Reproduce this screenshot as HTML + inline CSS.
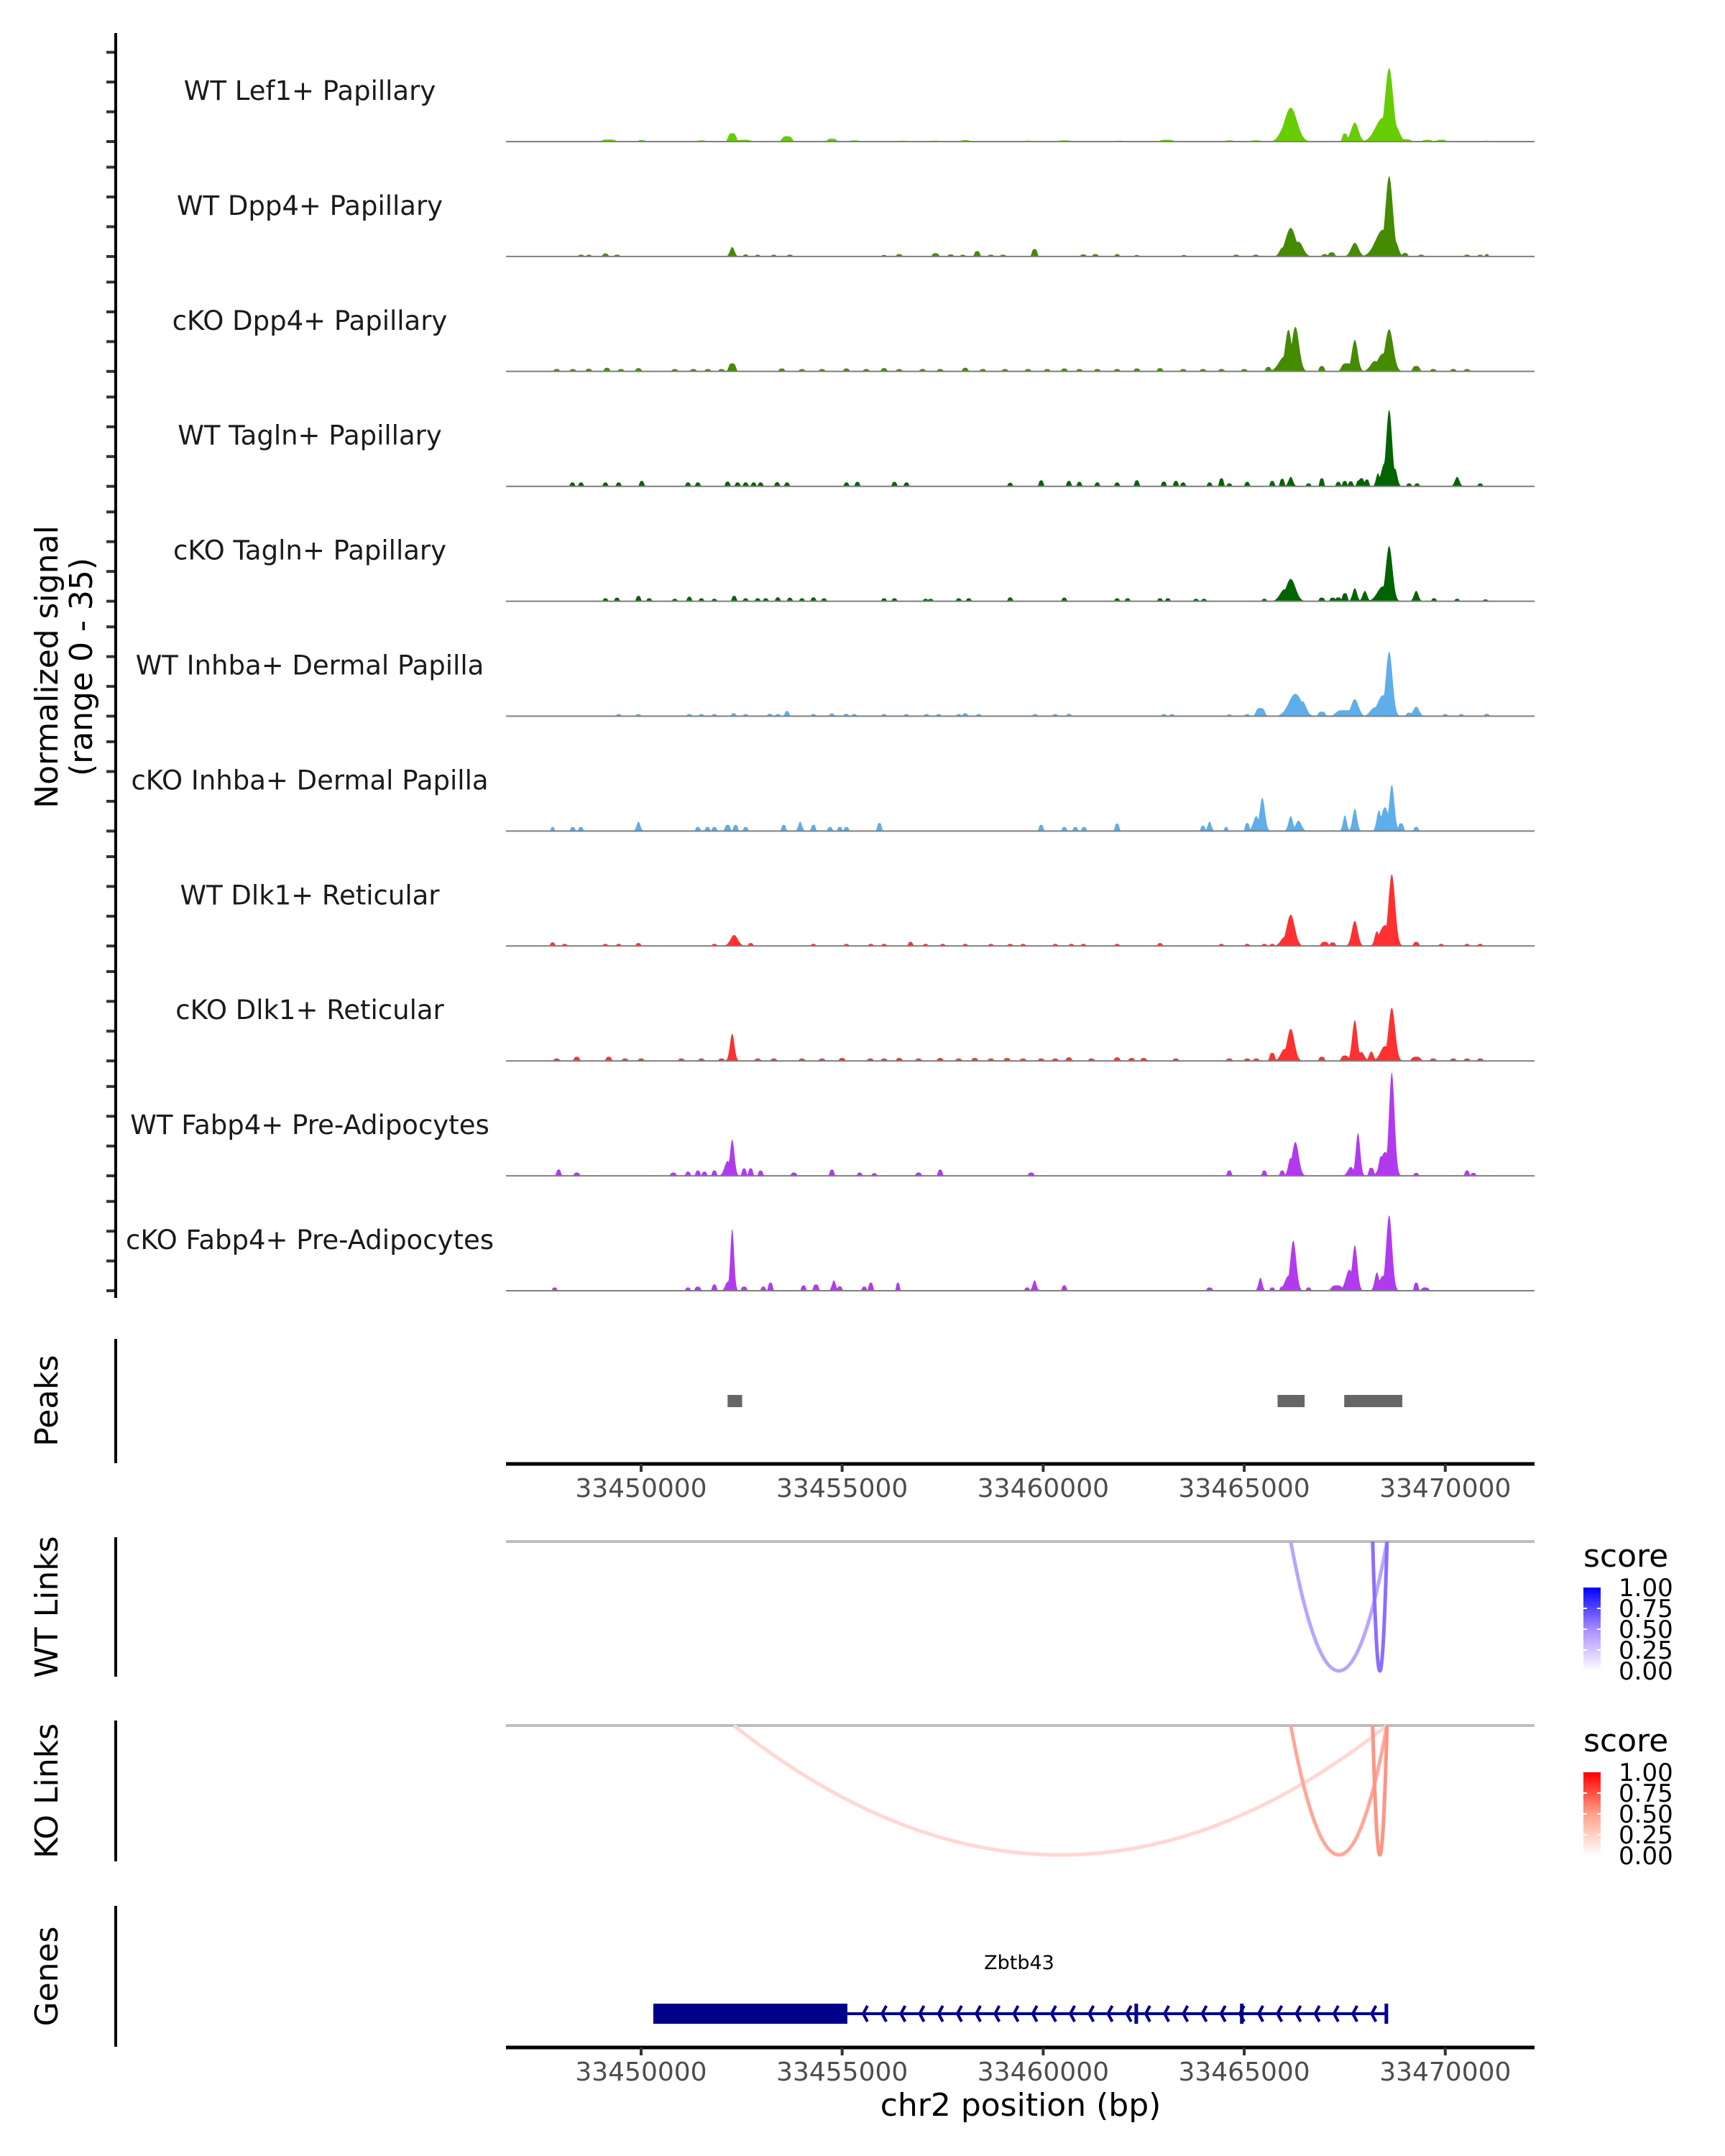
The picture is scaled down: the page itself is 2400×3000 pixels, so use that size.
<!DOCTYPE html>
<html><head><meta charset="utf-8">
<style>
html,body{margin:0;padding:0;background:#fff;}
svg{display:block;font-family:"DejaVu Sans","Liberation Sans",sans-serif;}
</style></head>
<body>
<svg id="fig" width="2400" height="3000" viewBox="0 0 2400 3000" xmlns="http://www.w3.org/2000/svg">
<rect x="0" y="0" width="2400" height="3000" fill="#fff"/>
<g id="cov"></g>
<g id="axes"></g>
<text x="0" y="0" transform="translate(80,928) rotate(-90)" text-anchor="middle" font-size="44" fill="#000">Normalized signal</text>
<text x="0" y="0" transform="translate(128,928) rotate(-90)" text-anchor="middle" font-size="44" fill="#000">(range 0 - 35)</text>
<text x="0" y="0" transform="translate(80,1949) rotate(-90)" text-anchor="middle" font-size="44" fill="#000">Peaks</text>
<text x="0" y="0" transform="translate(80,2236) rotate(-90)" text-anchor="middle" font-size="44" fill="#000">WT Links</text>
<text x="0" y="0" transform="translate(80,2492) rotate(-90)" text-anchor="middle" font-size="44" fill="#000">KO Links</text>
<text x="0" y="0" transform="translate(80,2750) rotate(-90)" text-anchor="middle" font-size="44" fill="#000">Genes</text>
<line x1="161" y1="46" x2="161" y2="1806" stroke="#000" stroke-width="4"/>
<line x1="161" y1="1863" x2="161" y2="2036" stroke="#000" stroke-width="4"/>
<line x1="161" y1="2139" x2="161" y2="2333" stroke="#000" stroke-width="4"/>
<line x1="161" y1="2394" x2="161" y2="2590" stroke="#000" stroke-width="4"/>
<line x1="161" y1="2652" x2="161" y2="2848" stroke="#000" stroke-width="4"/>
<g id="peaks"></g>
<g id="links"></g>
<g id="genes"></g>
<defs>
<linearGradient id="gBlue" x1="0" y1="1" x2="0" y2="0"><stop offset="0" stop-color="#ffffff"/><stop offset="0.5" stop-color="#a88cff"/><stop offset="1" stop-color="#0000ff"/></linearGradient>
<linearGradient id="gRed" x1="0" y1="1" x2="0" y2="0"><stop offset="0" stop-color="#ffffff"/><stop offset="0.5" stop-color="#ffa28a"/><stop offset="1" stop-color="#ff0000"/></linearGradient>
</defs>
<g id="legends"></g>
<text x="1418" y="2740" text-anchor="middle" font-size="27" fill="#000">Zbtb43</text>
<text x="1420" y="2944" text-anchor="middle" font-size="44" fill="#000">chr2 position (bp)</text>
</svg>
<script>
const NS="http://www.w3.org/2000/svg";
const trackNames=["WT Lef1+ Papillary","WT Dpp4+ Papillary","cKO Dpp4+ Papillary","WT Tagln+ Papillary","cKO Tagln+ Papillary","WT Inhba+ Dermal Papilla","cKO Inhba+ Dermal Papilla","WT Dlk1+ Reticular","cKO Dlk1+ Reticular","WT Fabp4+ Pre-Adipocytes","cKO Fabp4+ Pre-Adipocytes"];
const trackColors=["#66cd00","#458b00","#458b00","#006400","#006400","#5eaeea","#5eaeea","#ff3030","#ff3030","#b23aee","#b23aee"];
const xTicks=[33450000,33455000,33460000,33465000,33470000];
const peakRegions=[[33452151,33452513],[33465829,33466502],[33467487,33468932]];
const wtLinks=[[33466157,33468552,0.4],[33468195,33468552,0.65]];
const koLinks=[[33452306,33468552,0.2],[33466157,33468552,0.45],[33468195,33468552,0.55]];
const geneUTR=[33450304,33455130];
const geneSpan=[33450304,33468535];
const geneExonMarks=[33462315,33464940,33468535];
const legendTicks=[1.00,0.75,0.50,0.25,0.00];
// bumps: [position bp, value, half-width bp]
const t1=[[33466157,11.4,170],[33466050,6,150],[33468604,24.7,110],[33468450,8,200],[33468735,6,120],[33467750,6.4,100],[33467504,2.7,60],[33452266,2.8,90],[33453629,1.8,110],[33454745,1,100],[33449195,0.7,150],[33450016,0.5,80],[33468982,0.8,150],[33469556,0.6,100],[33451500,0.4,100],[33452562,0.6,150],[33458062,0.5,100],[33459622,0.3,100],[33460525,0.4,150],[33463070,0.6,150],[33464630,0.4,100],[33465287,0.4,120],[33469900,0.6,100],[33471034,0.3,60],[33455300,0.4,100],[33456500,0.3,100],[33461900,0.3,100],[33457300,0.3,100]];
const t2=[[33468604,27,100],[33468450,9,200],[33468760,5,80],[33466157,9.6,140],[33466350,5,120],[33465950,3,80],[33467750,4.6,100],[33467175,1.4,70],[33452266,3.2,60],[33459786,2.5,60],[33458358,1.8,60],[33457323,1.1,70],[33448506,0.6,60],[33448703,0.6,50],[33449113,1,60],[33449400,0.6,60],[33452600,0.7,50],[33452900,0.6,50],[33453300,0.6,50],[33453700,0.6,60],[33456043,0.5,50],[33456420,0.8,60],[33457700,0.7,60],[33458000,0.6,50],[33458700,0.6,60],[33459000,0.6,60],[33461000,0.7,60],[33461300,0.8,60],[33461839,0.8,50],[33462331,0.5,50],[33463500,0.5,50],[33464800,0.6,60],[33465287,0.6,60],[33467000,0.8,60],[33469000,1.2,60],[33469400,0.6,60],[33470541,0.6,60],[33470870,0.6,50],[33471034,0.8,40]];
const t3=[[33466100,14,90],[33466272,15,100],[33466000,5,150],[33468604,14.2,110],[33468450,6,150],[33468250,3.5,120],[33467750,10.6,80],[33467550,2.7,120],[33466929,1.8,60],[33469277,1.8,80],[33452266,2.7,80],[33447900,0.8,60],[33448300,0.8,60],[33448700,0.9,60],[33449150,1.2,60],[33449500,0.8,60],[33449934,1.1,60],[33450837,0.8,60],[33451300,0.8,60],[33451660,0.8,60],[33452000,0.8,60],[33453500,1,60],[33454000,0.8,60],[33454500,0.8,60],[33455107,1,60],[33455600,0.8,60],[33456043,1.1,60],[33456420,0.8,60],[33457000,0.8,60],[33457438,0.8,60],[33458062,1.2,60],[33458500,0.8,60],[33459050,0.8,60],[33459622,0.8,60],[33460100,0.8,60],[33460525,1,60],[33460900,0.8,60],[33461346,0.8,60],[33461839,0.8,60],[33462331,1,60],[33462906,1.1,60],[33463481,0.8,60],[33463973,0.8,60],[33464433,0.8,60],[33465000,0.8,60],[33465600,1.5,60],[33469700,0.8,60],[33470200,0.8,60],[33470541,0.8,60]];
const t4=[[33468604,25.7,80],[33468500,8,100],[33468750,6,60],[33468325,4.4,50],[33467914,2.7,60],[33466157,3.2,60],[33466929,2.7,50],[33464433,2.7,50],[33470295,3.2,60],[33450016,1.8,50],[33465697,1.8,50],[33448292,1.3,50],[33448506,1.3,50],[33449113,1.3,50],[33449442,1.3,50],[33451166,1.3,50],[33451412,1.3,50],[33452151,1.6,50],[33452400,1.3,50],[33452600,1.3,50],[33452800,1.3,50],[33452972,1.3,50],[33453383,1.4,50],[33453629,1.3,50],[33455107,1.3,50],[33455380,1.5,50],[33456300,1.5,50],[33456600,1.3,50],[33459179,1.2,50],[33459950,2,50],[33460640,1.8,50],[33460900,1.5,50],[33461346,1.3,50],[33461839,1.3,50],[33462331,2,50],[33463000,1.6,50],[33463300,1.8,50],[33463481,1.3,50],[33464138,1.3,50],[33464630,1,50],[33465074,1.5,50],[33465944,2.5,50],[33466600,1,50],[33467340,1.5,50],[33467500,1.8,50],[33467650,1.7,50],[33467850,2,50],[33468050,2.3,50],[33469100,1,50],[33469300,1,50],[33470870,1,50]];
const t5=[[33468604,18.6,90],[33468450,5,150],[33466157,7.5,130],[33466000,4,120],[33467750,4.4,60],[33468000,3.5,60],[33467504,2.7,60],[33469277,3.5,60],[33466929,1.2,60],[33467200,1.2,60],[33467340,1.3,60],[33449113,1,50],[33449400,1.2,50],[33449934,1.8,50],[33450200,1,50],[33450837,0.8,50],[33451200,1.5,50],[33451500,1,50],[33451823,0.8,50],[33452315,1.8,50],[33452600,1,50],[33452900,1,50],[33453100,1,50],[33453400,1.3,50],[33453700,1.2,50],[33454000,1,50],[33454286,1.3,50],[33454550,1,50],[33456043,1,50],[33456300,1,50],[33457077,0.8,50],[33457200,0.8,50],[33457900,1,50],[33458150,1,50],[33459179,1.3,50],[33460525,1.2,50],[33461839,1,50],[33462100,1,50],[33462906,1,50],[33463100,1,50],[33463800,0.8,50],[33464000,0.8,50],[33465500,0.8,50],[33469720,1,50],[33470295,0.8,50],[33471000,0.6,50]];
const t6=[[33468604,21.7,90],[33468450,7,150],[33468250,3,120],[33466272,7.5,180],[33466450,5,100],[33467750,5.7,100],[33467500,2,200],[33465402,2.7,100],[33469277,3.2,80],[33466929,1.5,80],[33469100,1.2,60],[33449442,0.7,50],[33449934,0.7,50],[33451200,0.7,50],[33451500,0.7,50],[33451823,0.7,50],[33452300,1,50],[33452600,0.7,50],[33453200,0.8,50],[33453400,0.7,50],[33453629,1.7,50],[33454286,0.7,50],[33454745,0.9,50],[33455100,0.8,50],[33455300,0.7,50],[33456043,0.7,50],[33456600,0.7,50],[33457100,0.7,50],[33457400,0.7,50],[33457900,0.7,50],[33458062,1,50],[33458400,0.7,50],[33459800,0.7,50],[33460300,0.7,50],[33460640,0.8,50],[33463000,0.7,50],[33463200,0.7,50],[33464630,0.6,50],[33465074,0.7,50],[33470000,0.7,50],[33470400,0.7,50],[33471034,0.8,50]];
const t7=[[33468670,15.6,70],[33468500,8,100],[33468350,7,60],[33465450,11.2,70],[33465300,5,80],[33467750,7.6,60],[33467504,5.3,50],[33466157,5,60],[33466350,3.5,80],[33468900,2.6,60],[33464138,3.2,50],[33465074,2.7,50],[33463973,1.8,50],[33464550,1.4,40],[33469277,1.4,50],[33449934,3.2,50],[33453957,3.2,50],[33453547,2.1,50],[33454286,2.1,50],[33455928,2.7,50],[33452151,2.1,60],[33452350,2.1,50],[33459950,2.1,50],[33461839,2.5,50],[33447800,1.4,40],[33448300,1.4,50],[33448500,1.4,50],[33451412,1.4,50],[33451650,1.4,50],[33451823,1.4,50],[33452600,1.4,50],[33454700,1.4,50],[33454942,1.4,50],[33455107,1.4,50],[33460525,1.4,50],[33460800,1.4,50],[33461018,1.4,50]];
const t8=[[33468670,24.1,90],[33468500,7,150],[33466157,10.5,110],[33466000,3,100],[33467750,8.5,80],[33468300,5,60],[33469277,1.4,60],[33467000,1.4,80],[33467200,1.2,60],[33452315,3.7,100],[33447800,1.2,50],[33448100,0.7,50],[33449113,0.7,50],[33449442,0.7,50],[33449934,1,50],[33451823,0.7,50],[33452726,1,50],[33454286,0.7,50],[33455107,0.7,50],[33455714,0.7,50],[33456043,0.7,50],[33456700,1.4,50],[33457077,0.7,50],[33457500,0.7,50],[33458062,0.7,50],[33458700,0.7,50],[33459179,0.7,50],[33459500,0.7,50],[33460300,0.7,50],[33460700,0.7,50],[33461000,0.7,50],[33461839,0.7,50],[33462906,1,50],[33464433,0.7,50],[33465074,0.7,50],[33465500,0.7,50],[33465697,0.7,50],[33469900,0.7,50],[33470541,0.7,50],[33470870,0.7,50]];
const t9=[[33468670,17.9,90],[33468500,5,120],[33466157,10.8,100],[33466000,4,100],[33465697,2.7,60],[33467750,13.7,70],[33467914,3,80],[33468161,3.2,60],[33467504,1.8,80],[33466929,1.4,60],[33469277,1.4,100],[33452266,9.2,60],[33447900,0.8,60],[33448400,1.4,60],[33449195,1.4,60],[33449600,0.8,60],[33450000,0.8,60],[33451000,0.8,60],[33451500,0.8,60],[33452000,0.8,60],[33452900,0.8,60],[33453300,0.8,60],[33454000,0.8,60],[33454500,0.8,60],[33455000,1,60],[33455700,0.8,60],[33456043,0.8,60],[33456420,1,60],[33456900,0.8,60],[33457438,1,60],[33457900,0.8,60],[33458300,1,60],[33458700,0.8,60],[33459100,1,60],[33459500,0.8,60],[33459950,0.8,60],[33460300,0.8,60],[33460640,1.2,60],[33461200,0.8,60],[33461839,1.2,60],[33462200,1,60],[33462500,1,60],[33463300,0.8,60],[33464630,0.8,60],[33465074,0.8,60],[33465300,0.8,60],[33469700,0.8,60],[33470200,0.8,60],[33470541,0.8,60],[33470870,0.8,60]];
const t10=[[33468670,34.8,75],[33468500,8,120],[33468400,6.7,60],[33468161,2.7,60],[33467830,14.4,60],[33467650,3,80],[33466272,11.4,90],[33466150,6,60],[33465500,1.8,50],[33465944,1.8,50],[33464630,1.8,50],[33469277,1,50],[33470541,1.8,50],[33470700,1,50],[33452266,12.2,60],[33452150,5,80],[33452562,2.5,50],[33452726,2.5,50],[33452972,1.8,50],[33451823,1.8,50],[33451575,1.4,50],[33451412,1.8,50],[33451166,1.4,50],[33450800,1.1,60],[33447950,2.1,50],[33448400,1.1,60],[33453800,1.1,60],[33454745,2.1,50],[33455435,1.1,50],[33455800,0.9,50],[33456900,1.1,60],[33457438,2.1,50],[33459700,1.1,60]];
const t11=[[33468604,25.4,80],[33468450,5,100],[33468300,6.2,60],[33466220,16.9,80],[33466100,5,100],[33465402,4.4,50],[33465697,1.1,50],[33465944,1.4,50],[33466600,1.1,50],[33467750,15.3,70],[33467619,7.1,100],[33467300,1.8,120],[33469277,2.7,50],[33469500,1.1,80],[33452266,20.9,50],[33452150,3,60],[33452562,1.4,60],[33451823,2.1,50],[33451412,1.4,60],[33451166,1.1,50],[33453218,2.7,50],[33453040,1.4,50],[33454040,1.8,50],[33454350,2.1,60],[33454795,3.5,50],[33454942,1.5,50],[33455714,2.7,50],[33455550,1.4,50],[33456388,2.7,40],[33459786,3.5,50],[33459600,1.1,50],[33460525,1.8,50],[33464138,1.1,60],[33447850,1.1,50]];
const trackData=[t1,t2,t3,t4,t5,t6,t7,t8,t9,t10,t11];

const X0=704,X1=2135,D0=33446640,D1=33472220;
function xs(bp){return X0+(bp-D0)/(D1-D0)*(X1-X0);}
const BASE0=197,STEP=159.9,YH=145,YMAX=35;
function ys(v,i){return BASE0+STEP*i - v/YMAX*YH;}
function mk(tag,attrs,parent){const e=document.createElementNS(NS,tag);for(const k in attrs)e.setAttribute(k,attrs[k]);parent.appendChild(e);return e;}

const cov=document.getElementById('cov');
const axes=document.getElementById('axes');
trackData.forEach((bumps,i)=>{
  const base=BASE0+STEP*i;
  let d="M"+X0+","+base;
  for(let px=X0;px<=X1;px+=1){
    const bp=D0+(px-X0)/(X1-X0)*(D1-D0);
    let v=0;
    for(const b of bumps){
      const w=b[2]*1.3;
      const z=(bp-b[0])/w;
      if(Math.abs(z)<3){
        const f=b[1]<3 ? b[1]*Math.exp(-z*z*z*z) : b[1]*Math.exp(-z*z);
        if(f>v)v=f;
      }
    }
    d+=" L"+px+","+ys(v,i).toFixed(1);
  }
  d+=" L"+X1+","+base+" Z";
  const p=mk('path',{d:d,fill:trackColors[i],stroke:'none'},cov);
  
  
  const bl=mk('line',{x1:X0,y1:base,x2:X1,y2:base,stroke:'#7f7f7f','stroke-width':2},cov);
  
  
  const lab=mk('text',{x:431,y:base-58,'text-anchor':'middle','font-size':37,fill:'#1a1a1a'},cov);
  lab.textContent=trackNames[i];
  
  
  [0,10,20,30].forEach(v=>{
    const tk=mk('line',{x1:148,y1:ys(v,i),x2:161,y2:ys(v,i),stroke:'#333','stroke-width':4},axes);
    
    
  });
});

// x axes
[2037,2849].forEach((ay,k)=>{
  const ax=mk('line',{x1:X0,y1:ay,x2:X1,y2:ay,stroke:'#000','stroke-width':5},axes);
  
  
  xTicks.forEach(t=>{
    const tk=mk('line',{x1:xs(t),y1:ay,x2:xs(t),y2:ay+11,stroke:'#333','stroke-width':4},axes);
    
    
    const tl=mk('text',{x:xs(t),y:ay+46,'text-anchor':'middle','font-size':36,fill:'#4d4d4d'},axes);
    tl.textContent=String(t);
    
    
  });
});

// peaks
const pk=document.getElementById('peaks');
peakRegions.forEach(r=>{
  const e=mk('rect',{x:xs(r[0]),y:1941,width:xs(r[1])-xs(r[0]),height:17,fill:'#666666'},pk);
  
  
});

// links
const lk=document.getElementById('links');
function blend(c,s){return 'rgb('+c.map(v=>Math.round(255+(v-255)*s)).join(',')+')';}
function drawLinks(list,top,col,name){
  const gl=mk('line',{x1:X0,y1:top,x2:X1,y2:top,stroke:'#bebebe','stroke-width':4},lk);
  
  
  list.forEach(l=>{
    const a=xs(l[0]),b=xs(l[1]),m=(a+b)/2,depth=180;
    const e=mk('path',{d:`M${a},${top} Q${m},${top+2*depth} ${b},${top}`,fill:'none',stroke:blend(col,l[2]),'stroke-width':5},lk);
    
    
  });
}
drawLinks(wtLinks,2145,[80,30,255],'wt-link');
drawLinks(koLinks,2401,[255,60,30],'ko-link');

// legends
const lg=document.getElementById('legends');
function legend(top,grad,name){
  const st=mk('text',{x:2203,y:top-29,'font-size':44,fill:'#000'},lg);
  st.textContent='score';
  
  
  const bar=mk('rect',{x:2203,y:top,width:24,height:116,fill:'url(#'+grad+')'},lg);
  
  
  legendTicks.forEach(v=>{
    const y=top+(1-v)*116;
    if(v>0&&v<1){const t=mk('line',{x1:2203,y1:y,x2:2208,y2:y,stroke:'#fff','stroke-width':2},lg);
      
      
      const t2=mk('line',{x1:2222,y1:y,x2:2227,y2:y,stroke:'#fff','stroke-width':2},lg);
      
      }
    const tl=mk('text',{x:2252,y:y+12,'font-size':34,fill:'#000'},lg);
    tl.textContent=v.toFixed(2);
    
    
  });
}
legend(2209,'gBlue','wt-legend');
legend(2466,'gRed','ko-legend');

// gene
const gn=document.getElementById('genes');
const gy=2802;
const gl=mk('line',{x1:xs(geneSpan[0]),y1:gy,x2:xs(geneSpan[1]),y2:gy,stroke:'#00008b','stroke-width':4},gn);


const gb=mk('rect',{x:xs(geneUTR[0]),y:gy-14,width:xs(geneUTR[1])-xs(geneUTR[0]),height:28,fill:'#00008b'},gn);


for(let x=xs(geneUTR[1])+22;x<xs(geneSpan[1])-6;x+=26.2){
  const ch=mk('polyline',{points:`${x+6},${gy-11} ${x},${gy} ${x+6},${gy+11}`,fill:'none',stroke:'#00008b','stroke-width':4},gn);
  
  
}
geneExonMarks.forEach(b=>{
  const e=mk('rect',{x:xs(b)-2.5,y:gy-14,width:5,height:28,fill:'#00008b'},gn);
  
  
});
</script>
</body></html>
